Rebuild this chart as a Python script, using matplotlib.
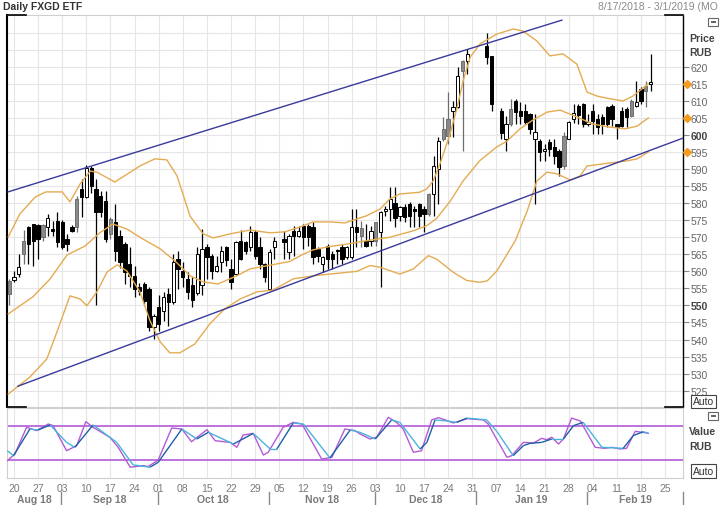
import matplotlib
matplotlib.use('Agg')
import matplotlib.pyplot as plt
import matplotlib.transforms as mtransforms
from matplotlib.collections import LineCollection
from matplotlib.lines import Line2D
from matplotlib.patches import Rectangle
import numpy as np
import pandas as pd

plt.rcParams['font.family'] = ['Liberation Sans', 'DejaVu Sans']

# weekday axis 8/17/2018 - 3/1/2019, exchange holidays leave empty slots
slots = pd.bdate_range('2018-08-17', '2019-03-01')
holidays = pd.to_datetime(['2018-11-05', '2018-12-31', '2019-01-01',
                           '2019-01-02', '2019-01-07'])
trade_days = slots[~slots.isin(holidays)]

# daily candles (RUB); kinds: b = black, w = hollow, g = gray
opens = [557.3, 557.5, 559.2, 569.0, 572.9, 573.9, 573.6, 573.6, 572.9, 572.4,
         574.9, 574.4, 569.5, 572.9, 581.2, 584.2, 581.7, 590.2, 584.2, 582.2,
         580.7, 575.4, 574.4, 570.5, 568.0, 562.2, 558.7, 555.3, 556.3, 554.8,
         543.6, 549.5, 548.5, 553.4, 551.0, 563.6, 560.2, 557.8, 556.0, 553.5,
         556.0, 567.1, 564.6, 560.2, 562.7, 567.1, 560.7, 559.2, 569.0, 568.5,
         567.1, 571.5, 567.1, 562.2, 554.8, 567.1, 569.6, 565.6, 571.9, 570.5,
         573.4, 573.4, 572.9, 566.6, 562.2, 567.5, 565.1, 566.3, 567.1, 564.1,
         564.1, 572.9, 572.7, 569.0, 569.0, 574.4, 571.5, 577.8, 578.3, 580.0,
         576.3, 578.8, 579.8, 578.3, 579.8, 578.3, 582.7, 582.7, 590.0, 601.8,
         604.7, 607.1, 608.1, 621.8, 621.8, 626.2, 623.1, 607.1, 598.8, 607.6,
         610.1, 607.1, 607.1, 606.2, 598.8, 598.3, 595.4, 597.9, 596.4, 595.4,
         599.8, 598.8, 604.7, 608.5, 609.1, 603.2, 607.1, 604.7, 605.2, 608.1,
         608.6, 603.2, 607.1, 607.6, 610.1, 608.6, 613.5, 614.5, 615.0]
highs = [557.8, 560.2, 565.1, 572.0, 573.4, 574.0, 573.9, 574.0, 576.8, 574.9,
         577.5, 575.0, 571.0, 573.5, 582.2, 587.1, 591.2, 591.0, 587.0, 583.5,
         583.7, 576.0, 579.8, 572.0, 568.5, 567.0, 561.5, 556.5, 557.0, 555.5,
         547.5, 553.0, 554.0, 555.0, 565.1, 566.1, 562.7, 559.7, 558.4, 567.0,
         572.4, 568.0, 565.1, 564.6, 567.5, 567.5, 563.6, 568.8, 572.0, 569.0,
         573.4, 572.0, 570.0, 562.5, 566.6, 570.0, 571.9, 571.0, 573.4, 573.4,
         573.9, 574.0, 574.4, 567.1, 564.6, 568.0, 566.1, 566.6, 568.0, 567.5,
         578.3, 578.3, 574.9, 573.9, 573.4, 574.6, 577.8, 579.3, 584.7, 584.7,
         579.3, 579.8, 580.3, 579.3, 580.0, 579.3, 582.9, 593.9, 599.3, 605.2,
         612.5, 610.1, 619.8, 622.0, 625.2, 630.0, 623.2, 608.0, 605.7, 610.5,
         610.6, 609.6, 609.1, 606.5, 606.2, 598.8, 597.4, 598.8, 598.8, 595.9,
         600.8, 604.2, 609.1, 609.1, 609.3, 606.2, 609.1, 606.2, 606.2, 608.6,
         609.1, 603.2, 608.1, 608.1, 610.6, 615.9, 614.0, 615.9, 623.7]
lows = [550.1, 556.9, 558.3, 562.2, 562.2, 561.7, 563.6, 569.0, 570.5, 570.5,
        567.1, 566.6, 566.1, 571.5, 571.5, 576.0, 581.5, 583.0, 550.1, 576.0,
        568.5, 569.5, 563.1, 561.0, 556.3, 555.5, 552.4, 553.0, 550.5, 542.5,
        540.2, 542.5, 545.5, 544.1, 550.5, 554.8, 555.3, 551.9, 549.5, 553.0,
        553.0, 557.8, 557.8, 559.7, 559.7, 561.7, 554.8, 558.8, 563.2, 565.1,
        566.1, 563.6, 560.7, 556.8, 554.5, 563.6, 563.6, 563.6, 564.6, 570.0,
        566.6, 567.5, 562.2, 562.7, 559.7, 560.7, 560.7, 562.2, 562.2, 563.6,
        563.6, 567.1, 567.1, 567.1, 567.5, 567.5, 555.3, 576.3, 574.9, 573.0,
        574.9, 574.4, 572.9, 572.9, 572.9, 571.5, 576.3, 576.3, 579.8, 598.3,
        597.4, 599.3, 608.0, 595.4, 617.9, 620.8, 607.1, 598.8, 595.4, 602.7,
        603.2, 603.2, 603.2, 600.3, 579.8, 592.5, 592.5, 593.9, 591.5, 588.1,
        590.0, 598.8, 603.5, 603.2, 602.2, 602.7, 600.3, 600.3, 600.3, 602.2,
        602.7, 598.8, 602.2, 602.2, 605.2, 608.1, 609.1, 608.1, 613.0]
closes = [553.4, 558.2, 561.2, 565.1, 568.0, 569.0, 569.5, 570.0, 575.6, 571.8,
          568.5, 567.1, 568.0, 571.9, 573.0, 581.7, 590.2, 585.0, 577.3, 577.3,
          569.5, 571.0, 566.1, 562.7, 559.7, 558.7, 554.8, 554.3, 551.4, 543.6,
          547.0, 544.6, 552.4, 551.0, 562.7, 560.7, 558.3, 553.9, 551.5, 565.0,
          566.6, 564.1, 560.2, 561.7, 566.1, 563.2, 556.8, 568.5, 563.6, 566.1,
          571.5, 564.6, 562.2, 558.3, 565.6, 569.0, 568.7, 570.5, 570.5, 571.9,
          570.0, 570.0, 564.1, 564.6, 564.1, 563.6, 563.6, 566.0, 563.6, 567.1,
          572.9, 571.5, 570.5, 567.5, 571.9, 569.0, 577.3, 578.3, 581.2, 575.5,
          578.8, 576.0, 576.3, 577.8, 576.3, 576.8, 576.8, 591.0, 598.3, 598.8,
          599.8, 608.1, 617.4, 618.9, 623.8, 622.8, 609.1, 600.5, 603.2, 603.2,
          606.6, 605.7, 603.7, 601.8, 600.8, 594.9, 595.9, 595.9, 593.9, 590.5,
          591.0, 603.7, 606.5, 606.0, 603.2, 603.7, 604.2, 602.2, 603.2, 603.2,
          604.7, 602.2, 602.7, 605.2, 605.7, 609.6, 610.1, 613.0, 615.4]
kinds = ('gwwgbbbgwb' 'bbbbgbwbbb' 'bgbbbbbbbb' 'wbwbwbbbbw' 'wbbwwbbwbb'
         'wbbbww' 'bwbwbbbbwbbbb' 'wwbgbwgwww' 'bwbbbbbgww' 'ggwwgw' 'bb'
         'bwgbbbbw' 'bwbbbgwwbb' 'wbbbbbbbbg' 'wbgw')

# Bollinger bands, read at trading-day slot positions
upper_x = [-0.2, 2.2, 5.4, 7.6, 11.0, 12.6, 14.7, 16.8, 18.2, 21.9, 27.1, 30.2,
           32.7, 34.8, 37.5, 40.2, 42.3, 45.8, 49.9, 54.1, 57.2, 60.3, 63.0,
           66.5, 69.6, 74.1, 76.9, 78.9, 81.0, 85.1, 86.6, 87.9, 89.3, 91.4,
           92.9, 94.1, 95.6, 97.6, 101.1, 104.5, 106.5, 109.4, 112.1, 114.8,
           117.7, 119.8, 121.9, 124.6, 127.3, 129.3, 132.5]
upper_y = [570.1, 576.8, 581.8, 583.3, 583.3, 580.4, 585.6, 589.4, 589.1, 586.2,
           590.9, 593.0, 592.7, 588.0, 576.2, 571.0, 569.8, 571.0, 572.1, 571.3,
           571.6, 573.0, 574.5, 574.5, 574.2, 576.3, 578.3, 581.2, 582.7, 583.2,
           584.2, 586.5, 591.5, 600.3, 608.2, 615.8, 622.9, 626.7, 629.6, 631.1,
           630.5, 627.6, 623.2, 623.8, 620.8, 612.6, 611.4, 610.6, 610.0, 611.4,
           615.0]
mid_x = [-0.2, 4.9, 8.5, 12.0, 15.7, 18.8, 21.5, 24.4, 27.7, 31.3, 34.4, 37.5,
         40.2, 43.3, 47.2, 49.9, 54.1, 58.2, 60.9, 63.0, 66.5, 69.6, 74.2, 78.9,
         83.8, 86.6, 88.6, 91.4, 94.1, 97.6, 101.1, 103.2, 105.9, 108.6, 111.5,
         114.2, 117.7, 121.0, 124.6, 127.7, 130.2, 132.5]
mid_y = [547.5, 552.5, 557.8, 564.8, 567.4, 571.3, 573.9, 572.4, 569.5, 566.6,
         563.0, 558.7, 556.9, 556.3, 558.7, 560.7, 561.8, 562.9, 565.0, 566.3,
         567.3, 567.9, 569.0, 570.0, 571.9, 573.4, 575.5, 580.5, 586.5, 592.5,
         596.5, 598.2, 601.8, 604.4, 606.7, 607.3, 605.3, 603.2, 602.3, 601.8,
         602.6, 605.0]
low_x = [-0.2, 4.3, 7.8, 9.9, 12.6, 14.7, 16.1, 18.2, 20.3, 22.4, 24.4, 27.1,
         29.2, 31.3, 33.3, 35.4, 38.5, 41.6, 44.7, 47.9, 51.4, 54.7, 58.9, 63.1,
         67.9, 72.1, 74.8, 76.9, 81.0, 83.8, 86.9, 88.6, 92.1, 94.9, 97.6, 99.1,
         101.1, 104.9, 107.4, 109.4, 111.5, 113.6, 116.3, 118.4, 119.8, 124.6,
         128.1, 130.2, 132.5]
low_y = [524.0, 529.0, 534.3, 542.2, 552.8, 551.9, 549.9, 554.0, 559.8, 561.9,
         560.1, 554.0, 545.5, 539.3, 536.1, 536.1, 538.7, 544.6, 549.0, 551.9,
         554.0, 554.5, 557.8, 558.7, 559.4, 560.0, 561.7, 561.2, 559.2, 560.7,
         564.6, 563.6, 559.7, 557.3, 556.8, 557.2, 560.1, 568.9, 577.7, 586.5,
         589.1, 588.6, 586.8, 588.0, 590.9, 591.8, 592.4, 593.0, 595.0]

# trend channel end points (slot, price)
chan_up_x, chan_up_y = [-0.24, 114.6], [583.3, 633.7]
chan_lo_x, chan_lo_y = [1.8, 140.1], [526.3, 599.3]

# stochastic %K and %D
k_x = [-0.4, 1.2, 3.6, 5.7, 8.1, 9.1, 11.9, 14.0, 15.9, 17.4, 20.9, 22.6, 25.1,
       27.8, 28.8, 30.9, 33.7, 35.8, 37.8, 41.0, 42.7, 45.8, 47.2, 48.5, 50.6,
       52.7, 53.7, 56.8, 58.9, 60.7, 64.8, 66.9, 69.6, 71.7, 72.7, 74.8, 76.2,
       78.6, 80.3, 81.7, 83.8, 85.5, 87.6, 89.0, 90.4, 92.1, 94.9, 98.3, 99.3,
       103.2, 104.2, 106.6, 108.7, 110.4, 111.4, 112.5, 113.9, 114.9, 116.6,
       118.4, 121.5, 123.5, 124.9, 126.7, 128.0, 129.8, 131.2, 132.5]
k_y = [18.7, 30.5, 77.5, 71.7, 83.4, 80.5, 36.4, 45.2, 87.5, 77.5, 59.9, 42.3,
       7.2, 10.1, 8.4, 19.9, 76.4, 74.6, 52.2, 73.4, 54.0, 51.0, 42.3, 64.0,
       66.8, 28.7, 33.5, 77.5, 86.3, 83.4, 21.6, 24.6, 74.6, 71.7, 66.0, 57.0,
       60.0, 95.2, 86.3, 74.6, 33.5, 36.4, 90.6, 94.6, 90.6, 85.2, 92.7, 90.6,
       83.4, 24.7, 27.6, 51.0, 49.9, 58.1, 55.7, 60.0, 48.1, 57.0, 93.8, 88.8,
       42.3, 40.5, 42.3, 39.4, 40.5, 70.5, 68.8, 67.0]
d_x = [-0.4, 0.9, 4.3, 6.0, 8.5, 11.9, 13.6, 17.4, 22.3, 25.7, 29.2, 30.9, 35.8,
       38.9, 41.3, 46.5, 50.6, 54.1, 55.5, 58.9, 61.0, 66.5, 70.7, 72.7, 75.9,
       79.3, 81.0, 85.2, 86.6, 88.3, 90.7, 92.8, 94.9, 99.0, 101.1, 104.5,
       106.6, 108.0, 110.4, 112.5, 114.9, 117.0, 119.0, 120.4, 122.9, 127.3,
       129.4, 131.5, 132.5]
d_y = [36.4, 27.6, 74.6, 72.9, 81.7, 51.0, 42.3, 81.7, 51.0, 11.3, 7.2, 15.9,
       74.6, 57.0, 68.8, 48.1, 66.8, 39.4, 39.4, 85.1, 83.4, 23.5, 72.9, 68.8,
       57.0, 90.6, 86.3, 39.4, 51.0, 90.6, 88.8, 86.3, 93.8, 90.6, 70.5, 27.6,
       45.2, 49.3, 51.0, 57.0, 57.0, 80.5, 86.3, 70.5, 42.3, 40.5, 63.0, 69.9,
       67.0]
stoch_levels = [20, 80]

W, H = 720, 506
GRID = '#e6e6e6'
BAND = '#e5ab52'
CHAN = '#3a3a9c'
TXT = '#666666'


def rect(x0, y0, x1, y1):
    return [x0 / W, 1 - y1 / H, (x1 - x0) / W, (y1 - y0) / H]


def fpt(x, y):
    return x / W, 1 - y / H


def main():
    fig = plt.figure(figsize=(W / 100, H / 100), dpi=100)
    ax = fig.add_axes(rect(7, 16, 683, 408))
    ax2 = fig.add_axes(rect(7, 409, 683, 479))

    mondays = [k for k, d in enumerate(slots) if d.weekday() == 0]
    for a in (ax, ax2):
        a.set_xlim(-0.45, 139.7)
        a.set_xticks([])
        for m in mondays:
            a.axvline(m, color=GRID, lw=0.8, zorder=0)
        for s in a.spines.values():
            s.set_color('#cfcfcf')
            s.set_linewidth(0.8)

    # price panel
    ax.set_ylim(520.2, 635.2)
    for p in range(525, 635, 5):
        ax.axhline(p, color=GRID, lw=0.8, zorder=0)
    ax.spines['left'].set_color('black')
    ax.spines['left'].set_linewidth(1.5)
    ax.spines['right'].set_color('black')
    ax.spines['right'].set_linewidth(1.0)

    xs = slots.get_indexer(trade_days[:len(opens)])
    o, h, l, c = map(np.array, (opens, highs, lows, closes))
    kk = np.array(list(kinds))
    for kind, face, edge in (('b', 'black', 'black'), ('w', 'white', 'black'),
                             ('g', '#8a8a8a', '#6e6e6e')):
        sel = kk == kind
        ax.vlines(xs[sel], l[sel], h[sel], color=edge, lw=0.9, zorder=3)
        bottom = np.minimum(o, c)[sel]
        height = np.maximum(np.abs(c - o)[sel], 0.35)
        ax.bar(xs[sel], height, 0.68, bottom=bottom, color=face,
               edgecolor=edge, linewidth=0.7, zorder=4)

    for bx, by in ((upper_x, upper_y), (mid_x, mid_y), (low_x, low_y)):
        ax.plot(bx, by, color=BAND, lw=1.0, zorder=5)
    ax.plot(chan_up_x, chan_up_y, color=CHAN, lw=1.0, zorder=5)
    ax.plot(chan_lo_x, chan_lo_y, color=CHAN, lw=1.0, zorder=5)

    yt = list(range(525, 621, 5))
    ax.yaxis.tick_right()
    ax.set_yticks(yt, labels=[str(v) for v in yt])
    ax.tick_params(axis='y', length=4, width=0.8, color='#888888',
                   labelsize=7.5, labelcolor=TXT, pad=1.5)
    for lbl in ax.get_yticklabels():
        if lbl.get_text() in ('550', '600'):
            lbl.set_fontweight('bold')
            lbl.set_color('#444444')

    # last values of the bands marked on the price scale
    tr = mtransforms.blended_transform_factory(ax.transAxes, ax.transData)
    ax.plot([1.006] * 3, [upper_y[-1], mid_y[-1], low_y[-1]], 'D', ms=4,
            color='#f39c1f', transform=tr, clip_on=False, zorder=6)

    # stochastic panel
    ax2.set_ylim(-11.8, 111.6)
    ax2.set_yticks([])
    for lv in stoch_levels:
        ax2.axhline(lv, color='#b35bd6', lw=1.2, zorder=2)
    ax2.plot(k_x, k_y, color='#b35bd6', lw=1.0, zorder=3)
    pts = np.column_stack([d_x, d_y])
    segs = np.stack([pts[:-1], pts[1:]], axis=1)
    up = np.diff(d_y) > 0
    cols = np.where(up, '#1f5fa8', '#48b4dc')
    ax2.add_collection(LineCollection(segs, colors=cols, lw=1.0, zorder=4))

    # date axis
    tb = mtransforms.blended_transform_factory(ax2.transData, ax2.transAxes)
    for m in mondays:
        ax2.text(m, -0.143, slots[m].strftime('%d'), transform=tb, ha='center',
                 va='center', fontsize=7.5, color='#7a7a7a', clip_on=False)
    firsts = [k for k in range(1, len(slots)) if slots[k].month != slots[k - 1].month]
    seps = [-0.45] + [k - 0.2 for k in firsts]
    for s in seps[1:]:
        ax2.plot([s, s], [-0.2, -0.39], color='#8a8a8a', lw=1.0,
                 transform=tb, clip_on=False)
    for a, b in zip(seps[:-1], seps[1:]):
        lbl = slots[int(np.ceil(a + 0.5))].strftime('%b %y')
        ax2.text((a + b) / 2, -0.3, lbl, transform=tb, ha='center', va='center',
                 fontsize=7.5, fontweight='bold', color='#7a7a7a')

    # corner marks of the price frame
    for (x0, y0, x1, y1) in ((7, 16, 26, 16), (7, 408, 26, 408),
                             (665, 16, 683, 16), (665, 408, 683, 408)):
        fig.add_artist(Line2D([x0 / W, x1 / W], [1 - y0 / H, 1 - y1 / H],
                              color='black', lw=1.2, transform=fig.transFigure))

    # titles and side captions
    fig.text(*fpt(3, 7), 'Daily FXGD ETF', fontsize=7.5, fontweight='bold',
             color='#333333', va='center')
    fig.text(*fpt(718, 7), '8/17/2018 - 3/1/2019 (MO', fontsize=7.5,
             color='#8a8a8a', va='center', ha='right')
    for y, s in ((39, 'Price'), (53, 'RUB'), (432, 'Value'), (447, 'RUB')):
        fig.text(*fpt(689, y), s, fontsize=7.5, fontweight='bold',
                 color='#444444', va='center')
    for y in (19, 413):
        fig.add_artist(Rectangle(fpt(708, y + 8), 10 / W, 8 / H, fill=False,
                                 ec='#666666', lw=0.8, transform=fig.transFigure))
        fig.add_artist(Rectangle(fpt(710.5, y + 4.8), 5 / W, 2 / H, fc='#666666',
                                 ec='none', transform=fig.transFigure))
    for y in (402.5, 472):
        fig.text(*fpt(703.5, y), 'Auto', fontsize=7.5, color='#333333',
                 ha='center', va='center',
                 bbox=dict(boxstyle='square,pad=0.15', fc='white', ec='#444444', lw=0.8))

    fig.savefig('out.png', dpi=100, facecolor='white')


if __name__ == '__main__':
    main()
